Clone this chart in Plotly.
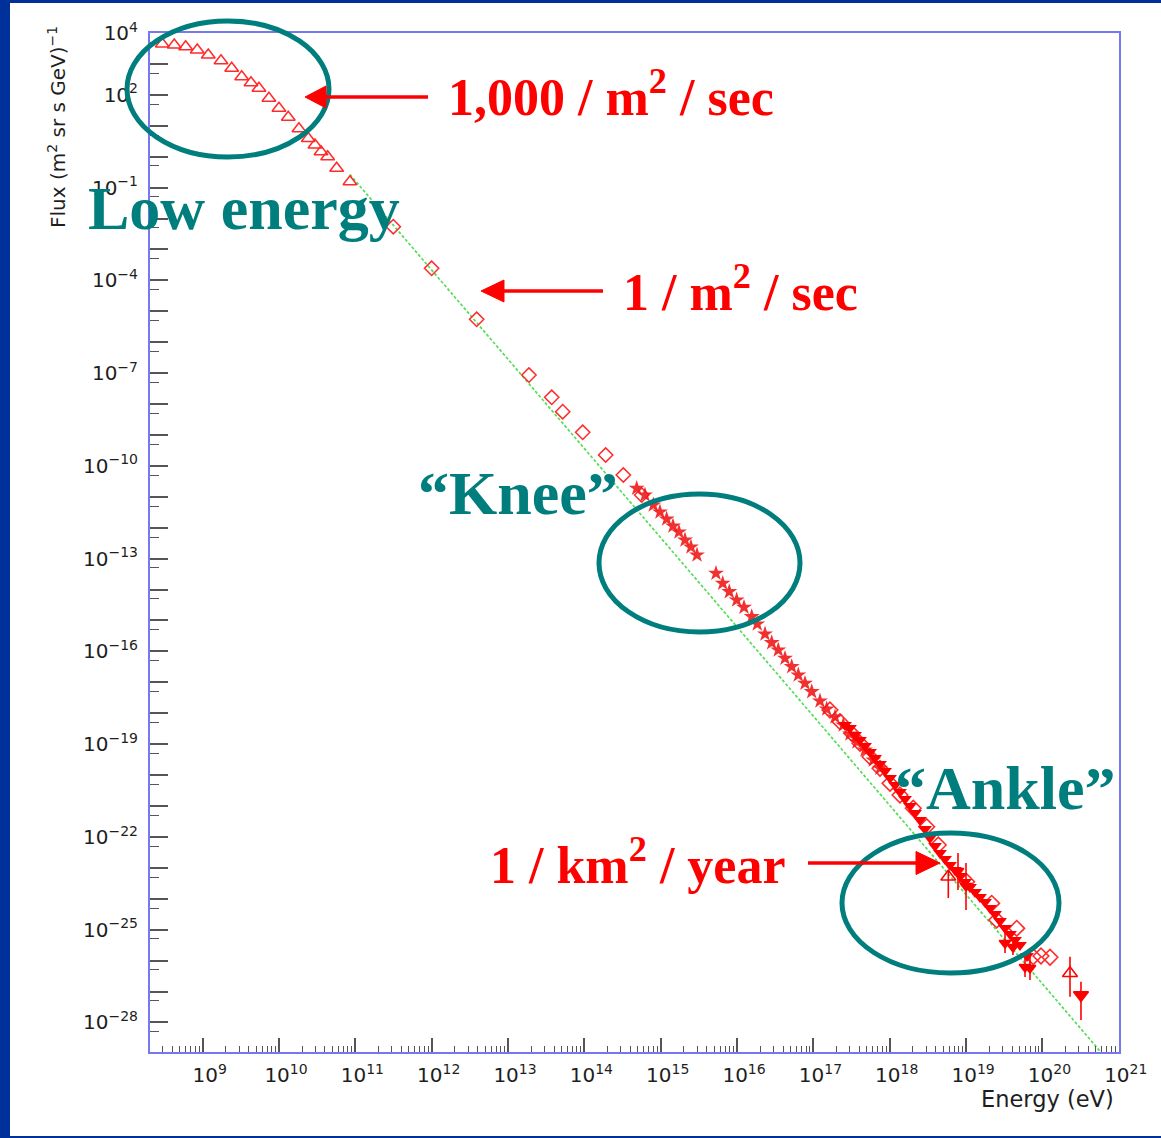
import numpy as np
import plotly.graph_objects as go

# ---------------- data (log10 values) ----------------
# low-energy points (open triangles)
low_logE = [8.471, 8.628, 8.777, 8.929, 9.073, 9.240, 9.380, 9.511, 9.633, 9.737,
            9.868, 9.999, 10.121, 10.261, 10.383, 10.471, 10.550, 10.637, 10.755, 10.929]
low_logF = [3.644, 3.612, 3.557, 3.450, 3.288, 3.104, 2.858, 2.587, 2.393, 2.212,
            1.888, 1.565, 1.274, 0.905, 0.588, 0.378, 0.161, 0.0, -0.376, -0.809]

# direct measurements (open diamonds)
dir_logE = [11.497, 11.999, 12.589, 13.274, 13.572, 13.716, 13.978, 14.279, 14.510, 14.751]
dir_logF = [-2.265, -3.610, -5.259, -7.061, -7.782, -8.248, -8.914, -9.648, -10.295, -10.942]

# knee region (stars)
knee_logE = [14.685, 14.794, 14.903, 14.990, 15.078, 15.161, 15.239, 15.318, 15.396, 15.475,
             15.724, 15.812, 15.898, 15.995, 16.091, 16.192, 16.265, 16.366, 16.454, 16.540,
             16.628, 16.716, 16.802, 16.890, 16.978, 17.086, 17.174, 17.283, 17.391, 17.479,
             17.571, 17.676, 17.784, 17.872]
knee_logF = [-10.725, -10.942, -11.265, -11.492, -11.718, -11.944, -12.138, -12.397, -12.624, -12.882,
             -13.474, -13.797, -14.069, -14.338, -14.574, -14.878, -15.114, -15.437, -15.719, -15.955,
             -16.223, -16.495, -16.763, -17.032, -17.304, -17.604, -17.863, -18.122, -18.380, -18.671,
             -18.930, -19.189, -19.512, -19.781]

# ankle region (filled triangles down), first experiment
ank_logE = [17.479, 17.610, 17.741, 17.872, 18.003, 18.134, 18.265, 18.396, 18.527, 18.658,
            18.789, 18.920, 19.051, 19.182, 19.313, 19.444, 19.575, 19.706, 19.798]
ank_logF = [-18.477, -18.865, -19.254, -19.642, -20.094, -20.547, -21.000, -21.453, -22.035, -22.520,
            -22.908, -23.264, -23.620, -23.943, -24.299, -24.719, -25.140, -25.496, -25.851]

# ankle region (filled triangles down), second experiment
ank2_logE = [17.414, 17.545, 17.676, 17.807, 17.938, 18.069, 18.200, 18.331, 18.462, 18.593,
             18.724, 18.855, 18.986, 19.117, 19.248, 19.379, 19.510, 19.641]
ank2_logF = [-18.380, -18.704, -19.060, -19.448, -19.868, -20.321, -20.774, -21.226, -21.744, -22.294,
             -22.714, -23.070, -23.458, -23.781, -24.105, -24.493, -24.946, -25.334]

# ankle region (open diamonds)
ankd_logE = [17.217, 17.348, 17.501, 17.610, 17.741, 17.872, 18.003, 18.134, 18.308, 18.484,
             18.636, 19.008, 19.335, 19.401, 19.663, 19.880, 19.981, 20.099]
ankd_logF = [-17.895, -18.273, -18.649, -18.972, -19.406, -19.781, -20.266, -20.644, -21.074, -21.670,
             -22.261, -23.448, -24.147, -24.687, -24.956, -25.874, -25.851, -25.893]

# points with error bars (value, upper, lower)
err_logE = [18.894, 18.999, 19.510, 19.614, 19.772, 19.837]
err_logF = [-23.102, -23.587, -25.431, -25.560, -26.207, -26.239]
err_logHi = [-22.520, -22.843, -25.107, -25.334, -25.884, -25.884]
err_logLo = [-23.717, -24.364, -25.754, -25.819, -26.530, -26.627]

# open triangles with error bars
hr_logE = [18.767, 20.361]
hr_logF = [-23.286, -26.411]
hr_logHi = [-23.070, -25.874]
hr_logLo = [-23.975, -27.167]

# highest-energy point (filled triangle down with bar)
top_logE = [20.505]
top_logF = [-27.113]
top_logHi = [-26.682]
top_logLo = [-27.921]

# reference power law (green dashed)
line_logE = [10.93, 20.80]
line_logF = [-0.58, -29.06]

# axis ticks
x_decades = list(range(9, 22))
y_decades = list(range(-28, 5))
y_labelled = [4, 2, -1, -4, -7, -10, -13, -16, -19, -22, -25, -28]


def p10(a):
    return 10.0 ** np.array(a, dtype=float)


# ---------------- geometry helpers (pixel -> paper) ----------------
W, H = 1161, 1138
L, R, T, B = 150, 1119, 33, 1052


def px(x):
    return (x - L) / (R - L)


def py(y):
    return (B - y) / (B - T)


RED = "#ff0000"
MRED = "#ff2a2a"
TEAL = "#007d7d"
BLUE_BG = "#00309a"
FRAME = "#7777f2"
TICK = "#555555"

fig = go.Figure()

# green reference line
fig.add_trace(go.Scatter(x=p10(line_logE), y=p10(line_logF), mode="lines",
                         line=dict(color="#55dd55", width=1.7, dash="3px,2px"),
                         hoverinfo="skip"))

# low energy triangles
fig.add_trace(go.Scatter(x=p10(low_logE), y=p10(low_logF), mode="markers",
                         marker=dict(symbol="triangle-up-open", size=12, color=MRED,
                                     line=dict(width=1.5, color=MRED))))
# direct diamonds
fig.add_trace(go.Scatter(x=p10(dir_logE), y=p10(dir_logF), mode="markers",
                         marker=dict(symbol="diamond-open", size=11, color=MRED,
                                     line=dict(width=1.5, color=MRED))))
# ankle open diamonds
fig.add_trace(go.Scatter(x=p10(ankd_logE), y=p10(ankd_logF), mode="markers",
                         marker=dict(symbol="diamond-open", size=12, color=MRED,
                                     line=dict(width=1.6, color=MRED))))
# knee stars
fig.add_trace(go.Scatter(x=p10(knee_logE), y=p10(knee_logF), mode="markers",
                         marker=dict(symbol="star", size=12, color="#f01a1a", opacity=0.9,
                                     line=dict(width=0))))
# ankle filled triangles
fig.add_trace(go.Scatter(x=p10(ank_logE), y=p10(ank_logF), mode="markers",
                         marker=dict(symbol="triangle-down", size=12, color=RED,
                                     line=dict(width=0))))
fig.add_trace(go.Scatter(x=p10(ank2_logE), y=p10(ank2_logF), mode="markers",
                         marker=dict(symbol="triangle-down", size=12, color=RED,
                                     line=dict(width=0))))


def err_trace(logE, logF, logHi, logLo, symbol, size):
    v = p10(logF)
    hi = p10(logHi) - v
    lo = v - p10(logLo)
    return go.Scatter(x=p10(logE), y=v, mode="markers",
                      marker=dict(symbol=symbol, size=size, color=RED,
                                  line=dict(width=1.5, color=RED)),
                      error_y=dict(type="data", symmetric=False, array=hi, arrayminus=lo,
                                   color=RED, thickness=1.6, width=0))


fig.add_trace(err_trace(err_logE, err_logF, err_logHi, err_logLo, "triangle-down", 10))
fig.add_trace(err_trace(hr_logE, hr_logF, hr_logHi, hr_logLo, "triangle-up-open", 13))
fig.add_trace(err_trace(top_logE, top_logF, top_logHi, top_logLo, "triangle-down", 13))

# ---------------- axes ----------------
x_minor = [m * 10.0 ** d for d in range(8, 21) for m in range(2, 10)]
y_minor = [5 * 10.0 ** (d - 1) for d in range(-28, 5)]

fig.update_xaxes(type="log", range=[8.31, 21.003],
                 tickmode="array", tickvals=[10.0 ** d for d in x_decades],
                 ticktext=["10<sup>%d</sup>" % d for d in x_decades],
                 ticks="inside", ticklen=14, tickwidth=1.5, tickcolor=TICK,
                 minor=dict(tickmode="array", tickvals=x_minor, ticks="inside",
                            ticklen=6, tickwidth=1.3, tickcolor=TICK),
                 showgrid=False, zeroline=False,
                 showline=True, mirror=True, linecolor=FRAME, linewidth=2,
                 tickfont=dict(family="DejaVu Sans", size=20, color="#1e1e1e"),
                 ticklabelshift=7, ticklabelstandoff=4)

y_text = []
for d in y_decades:
    if d in y_labelled:
        y_text.append("10<sup>%s</sup>" % (str(d).replace("-", "\u2212")))
    else:
        y_text.append("")

fig.update_yaxes(type="log", range=[-28.956, 4.0],
                 tickmode="array", tickvals=[10.0 ** d for d in y_decades],
                 ticktext=y_text,
                 ticks="inside", ticklen=18, tickwidth=1.5, tickcolor=TICK,
                 minor=dict(tickmode="array", tickvals=y_minor, ticks="inside",
                            ticklen=9, tickwidth=1.3, tickcolor=TICK),
                 showgrid=False, zeroline=False,
                 showline=True, mirror=True, linecolor=FRAME, linewidth=2,
                 tickfont=dict(family="DejaVu Sans", size=20, color="#1e1e1e"),
                 ticklabelstandoff=6)

# ---------------- decorations ----------------
shapes = []
# white slide area over the blue background
shapes.append(dict(type="rect", xref="paper", yref="paper", layer="below",
                   x0=px(10), x1=px(1165), y0=py(1136), y1=py(3),
                   fillcolor="white", line=dict(width=0)))
# ellipses
for (x0, x1, y0, y1) in [(127, 329, 21, 157), (599, 800, 494, 632), (842, 1059, 833, 973)]:
    shapes.append(dict(type="circle", xref="paper", yref="paper",
                       x0=px(x0), x1=px(x1), y0=py(y1), y1=py(y0),
                       line=dict(color=TEAL, width=5), fillcolor="rgba(0,0,0,0)"))


def arrow(x_tail, x_base, x_tip, yc, half):
    shapes.append(dict(type="line", xref="paper", yref="paper",
                       x0=px(x_tail), x1=px(x_base), y0=py(yc), y1=py(yc),
                       line=dict(color=RED, width=3.5)))
    path = "M %f,%f L %f,%f L %f,%f Z" % (px(x_tip), py(yc), px(x_base), py(yc - half),
                                           px(x_base), py(yc + half))
    shapes.append(dict(type="path", xref="paper", yref="paper", path=path,
                       fillcolor=RED, line=dict(color=RED, width=1)))


arrow(428, 326, 305, 97, 11)
arrow(603, 504, 481, 291, 11)
arrow(808, 916, 940, 863, 11.5)

fig.update_layout(shapes=shapes)

SERIF = "Liberation Serif, Times New Roman, serif"
ann = []


def txt(x, y, s, size, color, xanchor="left"):
    ann.append(dict(xref="paper", yref="paper", x=px(x), y=py(y), text=s,
                    showarrow=False, xanchor=xanchor, yanchor="middle",
                    font=dict(family=SERIF, size=size, color=color, weight="bold")))


txt(446, 93, "1,000 / m<sup>2</sup> / sec", 52, RED)
txt(621, 288, "1 / m<sup>2</sup> / sec", 52, RED)
txt(488, 861, "1 / km<sup>2</sup> / year", 52, RED)
txt(86, 208, "Low energy", 62, TEAL)
txt(416, 493, "\u201cKnee\u201d", 62, TEAL)
txt(893, 788, "\u201cAnkle\u201d", 62, TEAL)

ann.append(dict(xref="paper", yref="paper", x=px(57), y=py(127),
                text="Flux (m<sup>2</sup> sr s GeV)<sup>\u22121</sup>", textangle=-90,
                showarrow=False, xanchor="center", yanchor="middle",
                font=dict(family="DejaVu Sans", size=20, color="#1e1e1e")))
ann.append(dict(xref="paper", yref="paper", x=px(1047), y=py(1099),
                text="Energy (eV)", showarrow=False, xanchor="center", yanchor="middle",
                font=dict(family="DejaVu Sans", size=22.5, color="#1e1e1e")))

fig.update_layout(annotations=ann)

fig.update_layout(width=W, height=H, autosize=False,
                  margin=dict(l=L, r=W - R, t=T, b=H - B, pad=0),
                  paper_bgcolor=BLUE_BG, plot_bgcolor="white",
                  showlegend=False)

fig.write_html("out.html")
